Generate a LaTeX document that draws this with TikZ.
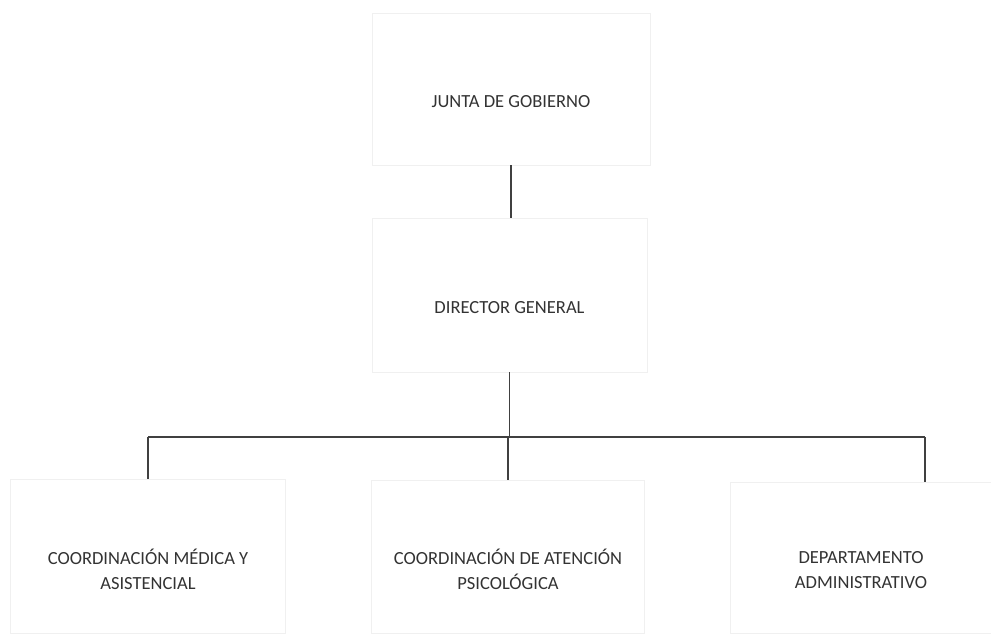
\documentclass[tikz,border=0pt]{standalone}
\usepackage{fontspec}
\setmainfont{Carlito}
\begin{document}
\begin{tikzpicture}[x=1pt,y=-1pt,
  orgbox/.style={draw=black!6, line width=0.8pt, fill=white, minimum width=#1, inner sep=0pt},
  boxtext/.style={text=black!80, font=\fontsize{18.5}{25}\selectfont, align=center, yshift=-13pt},
  link/.style={draw=black!75, line width=1.1pt}]
\useasboundingbox (0,0) rectangle (991,638);
\node[orgbox=278pt, minimum height=152pt, label={[boxtext]center:JUNTA DE GOBIERNO}] (junta) at (511,89) {};
\node[orgbox=275pt, minimum height=154pt, label={[boxtext]center:DIRECTOR GENERAL}] (dir) at (509.5,295) {};
\node[orgbox=275pt, minimum height=154pt, label={[boxtext]center:COORDINACIÓN MÉDICA Y\\ASISTENCIAL}] (left) at (148,556) {};
\node[orgbox=273pt, minimum height=153pt, label={[boxtext]center:COORDINACIÓN DE ATENCIÓN\\PSICOLÓGICA}] (mid) at (508,556.5) {};
\node[orgbox=262pt, minimum height=151pt, label={[boxtext]center:DEPARTAMENTO\\ADMINISTRATIVO}] (right) at (861,557.5) {};
\coordinate (hl) at (148,437);
\coordinate (hr) at (925,437);
\draw[link] (junta.south) -- (junta.south |- dir.north);
\draw[link] (dir.south) -- (dir.south |- hl);
\draw[link] (hl) -- (hr);
\draw[link] (hl) -- (left.north);
\draw[link] (mid.north |- hl) -- (mid.north);
\draw[link] (hr) -- (hr |- right.north);
\end{tikzpicture}
\end{document}
